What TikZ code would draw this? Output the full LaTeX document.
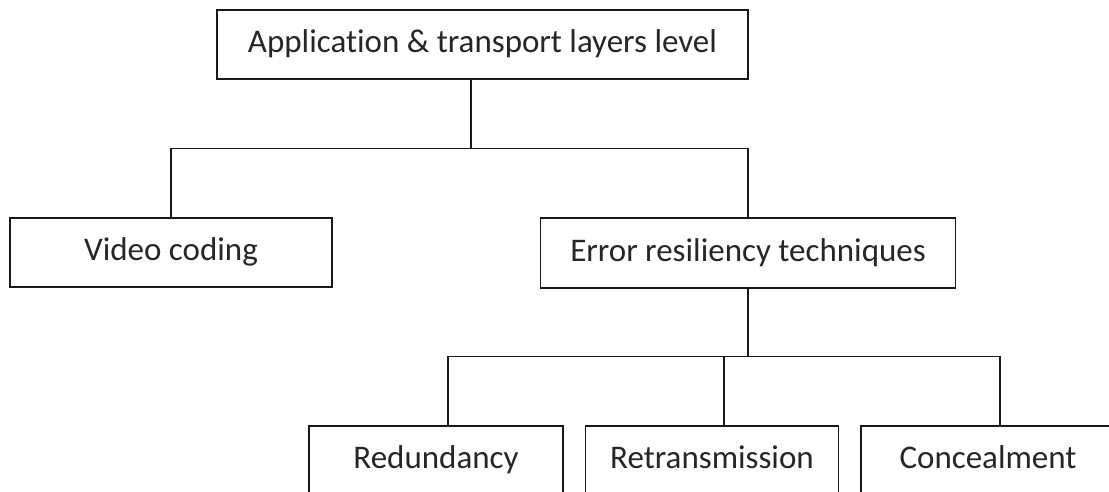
\documentclass[tikz,border=0pt]{standalone}
\usepackage{fontspec}
\setmainfont{Carlito}[Ligatures={NoCommon}]
\begin{document}
\begin{tikzpicture}[x=1pt,y=1pt,
  box/.style={draw=black!90, line width=1.8pt, fill=white, inner sep=0pt,
    minimum height=69pt, font=\fontsize{33}{40}\selectfont, text=black!85,
    text height=23.1pt, text depth=6.3pt},
  link/.style={draw=black!90, line width=1.8pt}]
  \useasboundingbox (0,0) rectangle (1109,-491);
  \clip (0,0) rectangle (1109,-491);

  % boxes
  \node[box, minimum width=531pt] (top) at (482.5,-44.5) {Application \& transport layers level};
  \node[box, minimum width=322pt] (vid) at (171,-252.5) {Video coding};
  \node[box, minimum width=415pt, minimum height=70pt] (err) at (748,-253) {Error resiliency techniques};
  \node[box, minimum width=254pt] (red) at (436,-460.5) {Redundancy};
  \node[box, minimum width=253pt] (ret) at (712,-460.5) {Retransmission};
  \node[box, minimum width=254pt] (con) at (988,-460.5) {Concealment};

  % junction points of the tree
  \coordinate (j1) at (471,-148.5);
  \coordinate (j2) at (748,-356.5);

  % first level
  \draw[link] (top.south -| j1) -- (j1);
  \draw[link] (vid.north) |- (j1) -| (err.north);

  % second level
  \draw[link] (err.south) -- (j2);
  \draw[link] ([xshift=12pt]red.north) |- (j2) -| ([xshift=12pt]con.north);
  \draw[link] ([xshift=12pt]ret.north) -- ([xshift=12pt]ret.north |- j2);
\end{tikzpicture}
\end{document}
